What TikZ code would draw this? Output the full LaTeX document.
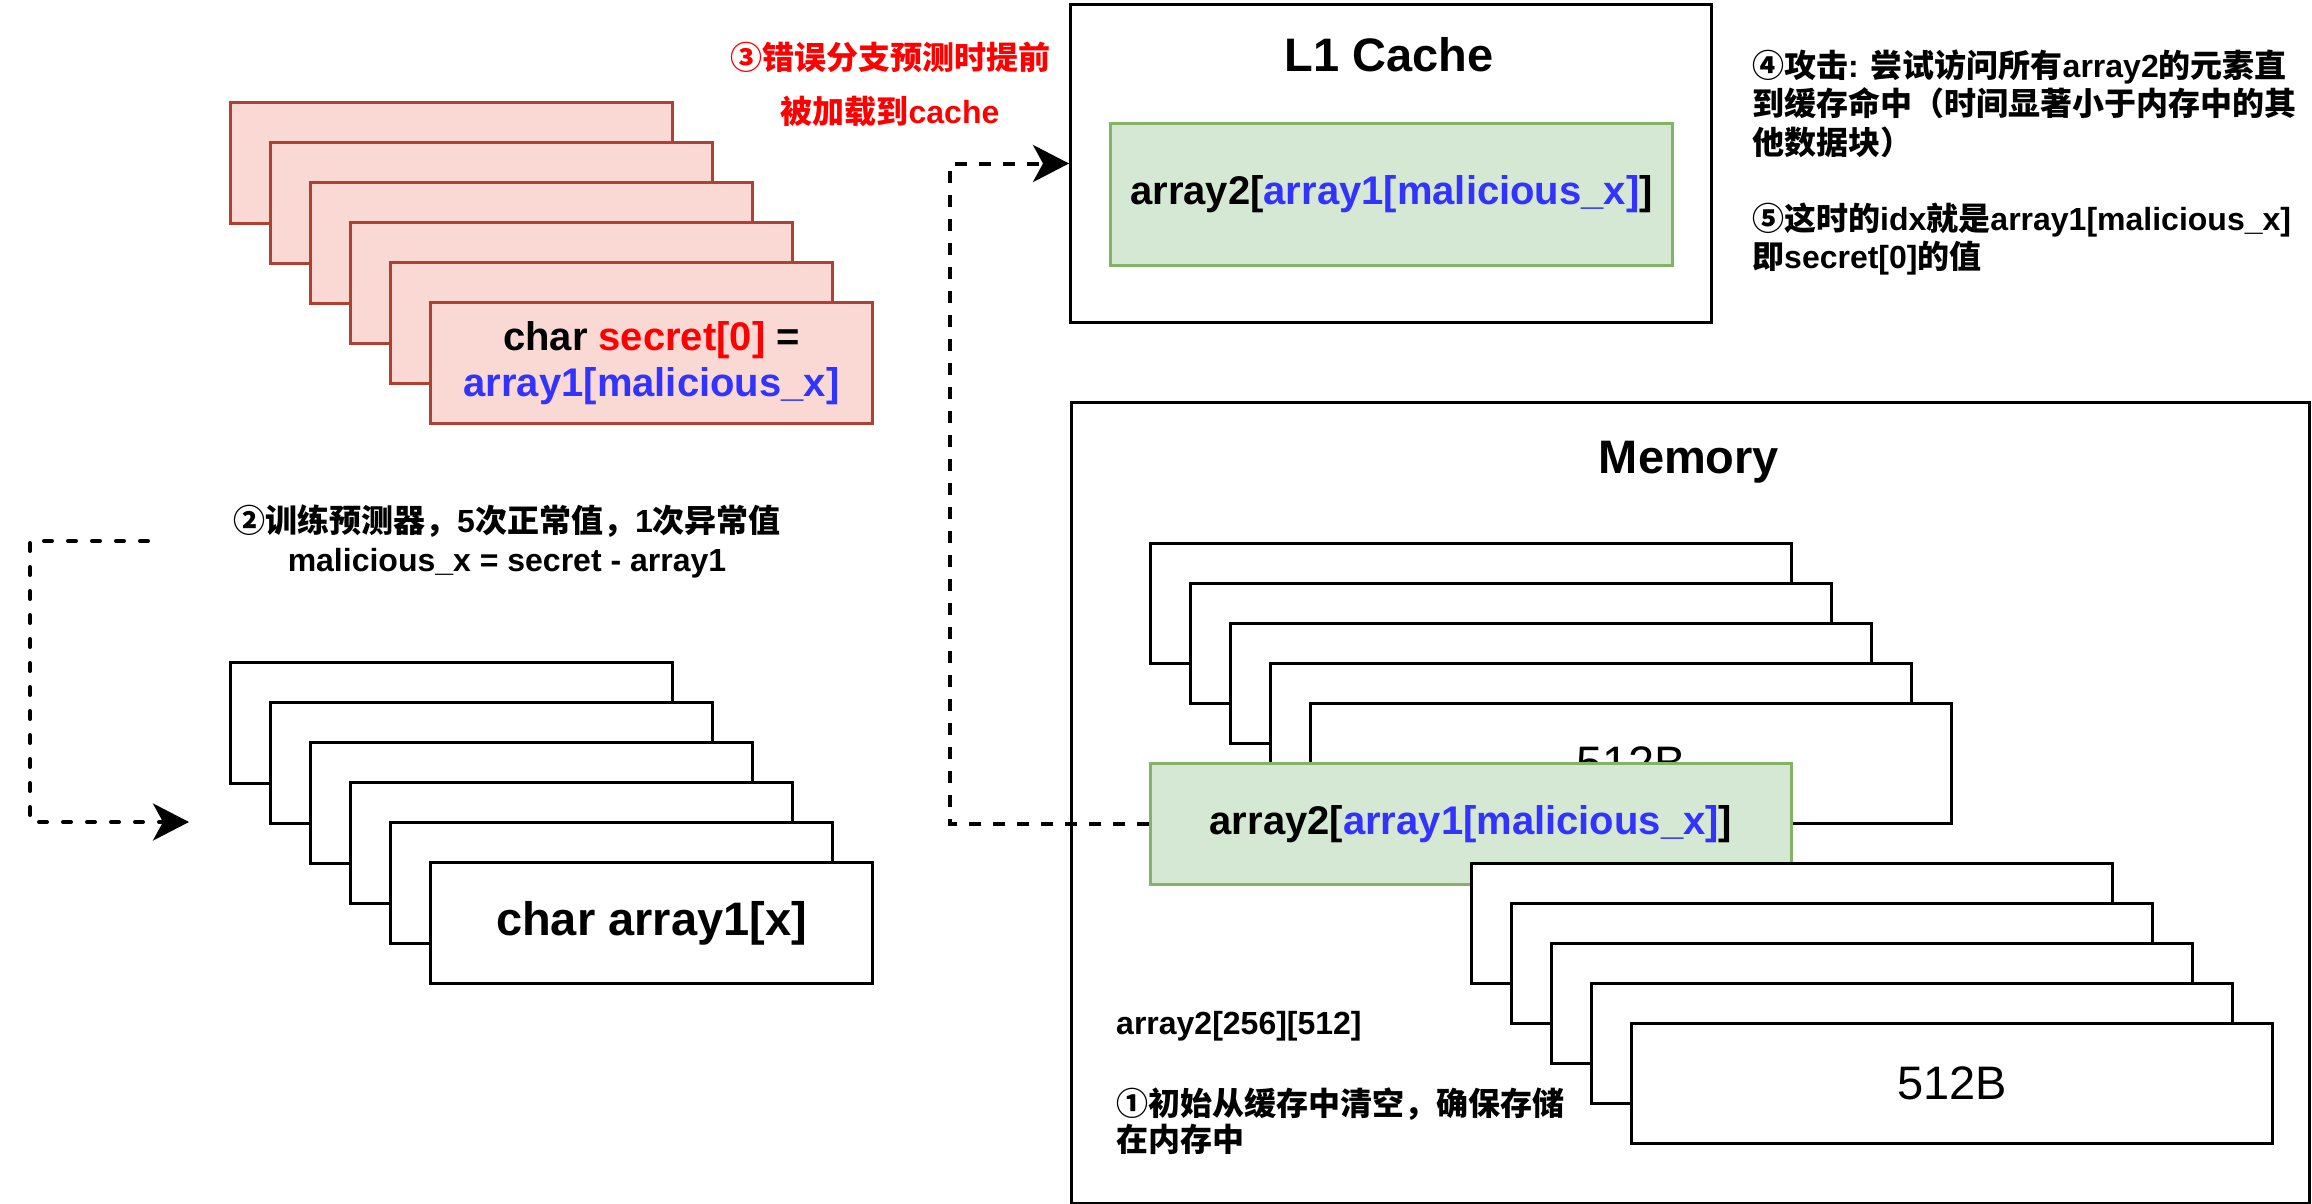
\documentclass[tikz,border=0pt]{standalone}
\usepackage{fontspec}
\setmainfont{Liberation Sans}
\newfontfamily\cjk{Noto Sans CJK SC}
\newcommand\Z[1]{{\cjk #1}}
\newcommand\txtS{\fontsize{32}{38}\selectfont\bfseries}
\newcommand\txtM{\fontsize{40}{46}\selectfont\bfseries}
\newcommand\txtL{\fontsize{47}{54}\selectfont\bfseries}
\newcommand\txtR{\fontsize{47}{54}\selectfont\mdseries}
\usetikzlibrary{arrows.meta}
\definecolor{redfill}{HTML}{FAD9D5}
\definecolor{redline}{HTML}{AE4132}
\definecolor{grnfill}{HTML}{D5E8D4}
\definecolor{grnline}{HTML}{82B366}
\definecolor{codeblue}{HTML}{3333FF}
\definecolor{alertred}{HTML}{FF0000}
\tikzset{
  sbox/.style={draw, line width=3pt, inner sep=0pt, anchor=north west},
  redbox/.style={sbox, draw=redline, fill=redfill, minimum width=442pt, minimum height=121pt},
  blkbox/.style={sbox, fill=white, minimum width=442pt, minimum height=121pt},
  membox/.style={sbox, fill=white, minimum width=641pt, minimum height=120pt},
  grnbox/.style={sbox, draw=grnline, fill=grnfill},
  lbl/.style={inner sep=0pt, anchor=base west, font=\txtS},
  lblc/.style={inner sep=0pt, anchor=base, font=\txtS},
  conn/.style={line width=4pt, -{Stealth[length=36pt,width=37pt,inset=10pt]}},
  connround/.style={conn, line cap=round, dash pattern=on 8pt off 16pt},
  connflat/.style={conn, dash pattern=on 12pt off 12pt},
}
\begin{document}
\begin{tikzpicture}[x=1pt,y=-1pt]
\useasboundingbox (0,0) rectangle (2312,1204);
\fill[white] (0,0) rectangle (2312,1204);

% L1 cache
\node[sbox, minimum width=641pt, minimum height=318pt] (L1) at (1069,3) {};
\node[lblc, font=\txtL] (L1t) at (1389,72) {L1 Cache};
\node[grnbox, minimum width=562pt, minimum height=142pt, font=\txtM] (L1g) at (1109,122) {array2[\textcolor{codeblue}{array1[malicious\_x]}]};

% Memory
\node[sbox, minimum width=1238pt, minimum height=801pt] (mem) at (1070,401) {};
\node[lblc, font=\txtL] (memt) at (1689,473) {Memory};

% red stack
\foreach \i in {0,...,4} {
  \node[redbox] (rs\i) at ({229+40*\i},{101+40*\i}) {};
}
\node[redbox, align=center, font=\txtM] (rs5) at (429,301) {char \textcolor{alertred}{secret[0]} =\\\textcolor{codeblue}{array1[malicious\_x]}};

% black stack
\foreach \i in {0,...,4} {
  \node[blkbox] (bs\i) at ({229+40*\i},{661+40*\i}) {};
}
\node[blkbox, font=\txtL] (bs5) at (429,861) {char array1[x]};

% memory upper stack
\foreach \i in {0,...,3} {
  \node[membox] (mu\i) at ({1149+40*\i},{542+40*\i}) {};
}
\node[membox, font=\txtR] (mu4) at (1309,702) {512B};
\node[grnbox, minimum width=641pt, minimum height=121pt, font=\txtM] (mg) at (1149,762) {array2[\textcolor{codeblue}{array1[malicious\_x]}]};

% memory lower stack
\foreach \i in {0,...,3} {
  \node[membox] (ml\i) at ({1470+40*\i},{862+40*\i}) {};
}
\node[membox, font=\txtR] (ml4) at (1630,1022) {512B};

% connectors
\coordinate (trS) at (148,541);
\coordinate (trE) at (189,822);
\draw[connround] (trS) -- ++(-118,0) |- (trE);
\draw[connflat] (mg.west) -- ++(-199,0) |- (L1.west);

% labels
\node[lblc, text=alertred] (s3a) at (890,70) {\Z{③错误分支预测时提前}};
\node[lblc, text=alertred] (s3b) at (890,124) {\Z{被加载到}cache};

\node[lblc] (s2a) at (507,532) {\Z{②训练预测器，}5\Z{次正常值，}1\Z{次异常值}};
\node[lblc] (s2b) at (507,571) {malicious\_x = secret - array1};

\node[lbl] (s4a) at (1752,78) {\Z{④攻击}: \Z{尝试访问所有}array2\Z{的元素直}};
\node[lbl] (s4b) at (1752,116) {\Z{到缓存命中（时间显著小于内存中的其}};
\node[lbl] (s4c) at (1752,154) {\Z{他数据块）}};

\node[lbl] (s5a) at (1752,230) {\Z{⑤这时的}idx\Z{就是}array1[malicious\_x]};
\node[lbl] (s5b) at (1752,268) {\Z{即}secret[0]\Z{的值}};

\node[lbl] (a2size) at (1116,1034) {array2[256][512]};
\node[lbl] (s1a) at (1116,1115) {\Z{①初始从缓存中清空，确保存储}};
\node[lbl] (s1b) at (1116,1151) {\Z{在内存中}};
\end{tikzpicture}
\end{document}
